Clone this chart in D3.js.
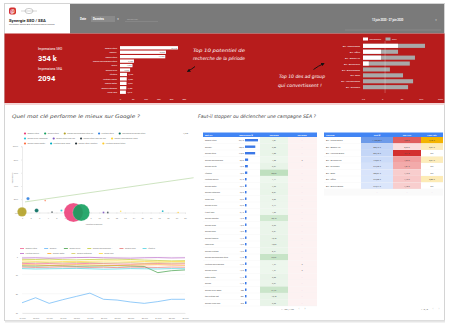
<!DOCTYPE html>
<html>
<head>
<meta charset="utf-8">
<script src="https://cdn.jsdelivr.net/npm/d3@7"></script>
<style>
  body { margin: 0; background: #fff; }
  svg { display: block; font-family: Roboto, "DejaVu Sans", sans-serif; }
</style>
</head>
<body>
<svg id="dash" width="450" height="323"></svg>
<script>
// ---- data ----
const dateRange = "13 juin 2020 - 27 juin 2020";
const kpiSeo = "354 k";
const kpiSea = "2094";

const topKeywords = ["apparel store", "google+", "google store", "google merchandise store", "divers", "google drive", "lifestyle", "youtube merch", "google water", "google notebook", "mugs sale"];
const topImpr = [22740, 18020, 17750, 5480, 4900, 3960, 2735, 2650, 2570, 2480, 2310];
const imprTicks = [0, 5000, 10000, 15000, 20000, 25000];

const adGroups = ["AW - Google Brand", "AW - Office", "AW - Apparel US", "AW - Accessories", "AW - Android Brand", "AW - Bags", "AW - YouTube Brand", "AW - Drinkware"];
const adClicks = [166, 6.6, 50, 27, 2.5, 12, 40, 22];
const adConv = [6.6, 0.86, 0.86, 0.2, 0, 0, 0, 0];
const adTicks = [0.1, 1, 10, 100, 1000];
const adRef = 1.4;

const scatterKw = ["apparel store", "google store", "google merchandise store au", "youtube store", "merchandise google store",
  "google drive campaign", "google store near me", "google store near me buy", "google merchandise shop",
  "google lemon water", "youtube gear shop", "google store location", "youtube product store"];
const scatterColors = ["#ec407a", "#13a05e", "#b3a126", "#2f7fe0", "#00695c",
  "#26c6da", "#7e57c2", "#37474f", "#fdd835",
  "#ff7043", "#00acc1", "#263238", "#ffca28"];
const scatterPos = [7.0, 7.9, 1.0, 1.7, 2.7, 5.6, 10.5, 11.0, 12.5, 3.7, 17.4, 4.5, 19.2];
const scatterCtr = [0.0, 0.0, 0.01, 0.21, 0.03, 0.03, 0.0, 0.0, 0.02, 0.18, 0.02, 0.005, 0.0];
const scatterImpr = [22740, 18020, 5480, 640, 1000, 300, 250, 200, 150, 60, 200, 120, 100];
const legendRows = [5, 4, 4];
const trendPos = [1.35, 21];
const trendCtr = [0.16, 0.525];
const posTicks = [1, 2, 3, 4, 5, 6, 7, 8, 9, 10, 11, 12, 13, 14, 15, 16, 17, 18, 19, 20];
const ctrTicks = [0, 0.2, 0.4, 0.6, 0.8, 1];

const days = ["14 juin", "15 juin", "16 juin", "17 juin", "18 juin", "19 juin", "20 juin", "21 juin", "22 juin", "23 juin", "24 juin", "25 juin", "26 juin"];
const seriesNames = ["apparel store", "google+", "google drive", "google merchandise...", "google drop", "lifestyle", "youtube merch...", "google water", "google notebook", "mugs sale"];
const seriesColors = ["#f06292", "#64b5f6", "#43a047", "#c0ca33", "#e57373", "#4dd0e1", "#ba68c8", "#ffa726", "#d4c95a", "#fdd835"];
const seriesValues = [
  [4.3, 4.5, 4.4, 4.6, 4.5, 4.3, 4.4, 4.6, 4.7, 4.5, 4.4, 4.6, 4.5],
  [24.7, 22.1, 25.0, 23.1, 21.4, 19.7, 22.9, 23.3, 24.3, 25.0, 24.1, 22.9, 22.9],
  [5.6, 5.7, 5.5, 5.6, 5.8, 5.7, 5.6, 5.5, 5.7, 5.9, 9.1, 8.1, 7.7],
  [2.2, 2.3, 2.1, 2.4, 2.5, 2.3, 2.2, 2.1, 2.3, 2.6, 2.8, 3.0, 2.9],
  [6.2, 6.4, 6.3, 6.1, 6.2, 6.4, 6.3, 6.5, 6.2, 6.3, 6.4, 6.2, 6.3],
  [7.0, 7.2, 7.1, 7.0, 6.9, 7.1, 7.3, 7.2, 7.0, 7.1, 7.2, 7.0, 7.1],
  [1.5, 1.4, 1.6, 1.5, 1.3, 1.2, 1.4, 1.5, 1.6, 1.4, 1.3, 1.5, 1.4],
  [5.0, 5.1, 5.3, 5.2, 5.0, 5.1, 5.3, 5.4, 5.2, 5.1, 5.0, 5.2, 5.3],
  [3.8, 3.7, 3.9, 4.0, 3.8, 3.9, 4.1, 4.0, 3.9, 4.2, 4.0, 4.1, 4.0],
  [3.0, 3.2, 3.1, 3.3, 3.4, 3.2, 3.1, 3.0, 3.2, 3.3, 3.5, 3.4, 3.3]
];
const rankTicks = [1, 10, 20, 30];

const tblKw = ["apparel store", "google+", "google store", "google merchandise", "google shirts", "lifestyle", "youtube merch",
  "google water", "google notebook", "mugs sale", "google scribe", "t shirt sale", "google sweater", "google shop",
  "google pens", "google tumbler", "umbrellas", "hoodie youtube", "google merchandise store", "youtube merchandise",
  "google socks", "water bottle", "google", "google drive game", "the youtube hat", "google lunch box"];
const tblImpr = [22740, 18020, 17750, 5480, 4900, 3960, 2735, 2650, 2570, 2480, 2310, 2140, 1890, 1820, 1760, 1680,
  1540, 1480, 1390, 1350, 1280, 1120, 1050, 980, 857, 845];
const tblSeo = [4.87, 6.08, 7.85, 1.08, 9.67, 80.63, 1.11, 7.63, 8.07, 3.06, 2.17, 1.09, 50.15, 6.69, 6.51, 10.40,
  10.02, 8.21, 66.57, 1.24, 1.27, 9.05, 6.67, 61.27, 10.48, 9.65];
const tblSea = [null, null, null, 3, null, null, null, null, null, null, null, null, null, null, null, null,
  null, null, null, 3, 3, null, null, null, null, null];

const agName = ["AW - Google Brand", "AW - Apparel US", "AW - YouTube Brand", "AW - Accessories", "AW - Drinkware", "AW - Bags", "AW - Office", "AW - Android Brand"];
const agCost = [1730.68, 550.42, 536.10, 418.67, 316.25, 250.37, 243.90, 215.74];
const agCpc = [2.08, 0.92, 2.41, 1.62, 1.51, 1.12, 1.16, 1.10];
const agConv = [6.45, 0.67, 0, 0.61, 0, 0, 0.80, 0];

// ---- drawing ----
const svg = d3.select("#dash");
const fr = d3.format(",.2f");
const euro = v => fr(v).replace(/,/g, " ").replace(".", ",") + " €";

function txt(g, x, y, s, size, fill, anchor, weight) {
  return g.append("text").attr("x", x).attr("y", y).text(s)
    .style("font-size", size + "px").style("fill", fill)
    .attr("text-anchor", anchor || "start").style("font-weight", weight || "normal");
}
// the dashboard uses a thin handwriting font, approximated here
function hand(g, x, y, s, len, size, fill) {
  return g.append("text").attr("x", x).attr("y", y).text(s)
    .attr("textLength", len).attr("lengthAdjust", "spacingAndGlyphs")
    .style("font-family", "'DejaVu Sans'").style("font-weight", 200).style("font-style", "italic")
    .style("font-size", size + "px").style("fill", fill);
}

svg.append("defs").append("marker").attr("id", "ah").attr("viewBox", "0 0 10 10")
  .attr("refX", 8).attr("refY", 5).attr("markerWidth", 4).attr("markerHeight", 4).attr("orient", "auto")
  .append("path").attr("d", "M0,0L10,5L0,10z").attr("fill", "#111");

// frame
svg.append("rect").attr("x", 4.5).attr("y", 3.5).attr("width", 440).attr("height", 317)
  .attr("fill", "#fff").attr("stroke", "#d4d4d4");
svg.append("line").attr("x1", 5).attr("x2", 445).attr("y1", 321.5).attr("y2", 321.5).attr("stroke", "#e6e6e6").attr("stroke-width", 2);

// header
const hd = svg.append("g");
hd.append("rect").attr("x", 70).attr("y", 4).attr("width", 374).attr("height", 29.5).attr("fill", "#7a7a7a");
hd.append("rect").attr("x", 9).attr("y", 7.5).attr("width", 7).attr("height", 7).attr("rx", 2).attr("fill", "#d32f2f");
txt(hd, 12.5, 13, "@", 5, "#fff", "middle", "bold");
hd.append("ellipse").attr("cx", 29).attr("cy", 11).attr("rx", 4).attr("ry", 2.6).attr("fill", "none").attr("stroke", "#9a9a9a").attr("stroke-width", 0.5);
hd.append("line").attr("x1", 21).attr("x2", 37).attr("y1", 11).attr("y2", 11).attr("stroke", "#9a9a9a").attr("stroke-width", 0.4);
txt(hd, 9, 21.5, "Synergie SEO / SEA", 4.2, "#222", "start", "bold");
txt(hd, 9, 25.3, "Corrélation Google Ads et Google Search Console", 2.1, "#555");
txt(hd, 80, 20, "Date", 3, "#fff", "start", "bold");
hd.append("rect").attr("x", 91).attr("y", 16).attr("width", 24).attr("height", 6).attr("fill", "#8a8a8a");
txt(hd, 93, 20.2, "Données", 2.8, "#fff", "start", "bold");
txt(hd, 118, 20.2, "▾", 3, "#eee", "middle");
hd.append("line").attr("x1", 125).attr("x2", 158).attr("y1", 21.5).attr("y2", 21.5).attr("stroke", "#999").attr("stroke-width", 0.4);
txt(hd, 127, 20, "Rechercher", 2.2, "#b5b5b5");
hd.append("line").attr("x1", 345).attr("x2", 441).attr("y1", 30).attr("y2", 30).attr("stroke", "#999").attr("stroke-width", 0.5);
txt(hd, 372, 20.5, dateRange, 2.6, "#fff", "start", "bold");
txt(hd, 436, 20.5, "▾", 3, "#ccc", "middle");

// red band
const band = svg.append("g");
band.append("rect").attr("x", 4.5).attr("y", 33.5).attr("width", 440).attr("height", 69.5).attr("fill", "#b71c1c");
band.append("rect").attr("x", 4.5).attr("y", 103).attr("width", 440).attr("height", 2).attr("fill", "#f4d6d6");
txt(band, 38, 50, "Impressions SEO", 3.2, "#fff");
txt(band, 38, 60.5, kpiSeo, 7.5, "#fff", "start", "bold");
txt(band, 38, 70, "Impressions SEA", 3.2, "#fff");
txt(band, 38, 80.5, kpiSea, 7.5, "#fff", "start", "bold");

// top keywords bar chart
const xL = d3.scaleLinear().domain([0, 30000]).range([120, 196.5]);
const yL = d3.scaleBand().domain(topKeywords).range([45, 95]).padding(0.25);
const fk = d3.format(",");
const lb = band.append("g");
topKeywords.forEach((k, i) => {
  const w = xL(topImpr[i]) - xL(0);
  lb.append("rect").attr("x", xL(0)).attr("y", yL(k)).attr("width", w).attr("height", yL.bandwidth()).attr("fill", "#fff");
  txt(lb, 117, yL(k) + yL.bandwidth() - 0.8, k, 2.1, "#fff", "end");
  const s = fk(topImpr[i]);
  if (w > 10) txt(lb, xL(topImpr[i]) - 1, yL(k) + yL.bandwidth() - 0.9, s, 1.9, "#666", "end");
  else txt(lb, xL(topImpr[i]) + 1.5, yL(k) + yL.bandwidth() - 0.9, s, 1.9, "#fff");
});
const axL = band.append("g").attr("transform", "translate(0,95.5)")
  .call(d3.axisBottom(xL).tickValues(imprTicks).tickSize(0).tickFormat(d => d ? d / 1000 + "k" : "0"));
axL.select(".domain").remove();
axL.selectAll("text").style("font-size", "2.3px").style("fill", "#fff").attr("dy", "1.6");

// annotation 1
hand(band, 193, 52, "Top 10 potentiel de", 52, 4.6, "#fff");
hand(band, 193, 59.5, "recherche de la période", 52, 4.6, "#fff");
band.append("path").attr("d", "M195,66.5 Q192,69 187.5,71.5").attr("fill", "none")
  .attr("stroke", "#111").attr("stroke-width", 0.9).attr("marker-end", "url(#ah)");

// ad group bar chart (log scale)
const xR = d3.scaleLog().domain([0.1, 1000]).range([363, 440]);
const yR = d3.scaleBand().domain(adGroups).range([42, 91]).padding(0.3);
const rb = band.append("g");
rb.append("rect").attr("x", 363).attr("y", 37.5).attr("width", 5).attr("height", 3).attr("fill", "#fff");
txt(rb, 369.5, 40.2, "Conversions", 2.1, "#fff");
rb.append("rect").attr("x", 385.5).attr("y", 37.5).attr("width", 5).attr("height", 3).attr("fill", "#a9a9a9");
txt(rb, 392, 40.2, "Clics", 2.1, "#fff");
adGroups.forEach((a, i) => {
  rb.append("rect").attr("x", xR(0.1)).attr("y", yR(a)).attr("width", xR(adClicks[i]) - xR(0.1))
    .attr("height", yR.bandwidth()).attr("fill", "#a9a9a9");
  if (adConv[i] > 0.1)
    rb.append("rect").attr("x", xR(0.1)).attr("y", yR(a)).attr("width", xR(adConv[i]) - xR(0.1))
      .attr("height", yR.bandwidth()).attr("fill", "#fff");
  txt(rb, 360, yR(a) + yR.bandwidth() - 1, a, 2.1, "#fff", "end");
});
rb.append("line").attr("x1", xR(adRef)).attr("x2", xR(adRef)).attr("y1", 41).attr("y2", 93)
  .attr("stroke", "#fff").attr("stroke-opacity", 0.6).attr("stroke-width", 0.4);
const axR = band.append("g").attr("transform", "translate(0,95.5)")
  .call(d3.axisBottom(xR).tickValues(adTicks).tickSize(0).tickFormat(d3.format("~g")));
axR.select(".domain").remove();
axR.selectAll("text").style("font-size", "2.3px").style("fill", "#fff").attr("dy", "1.6");

// annotation 2
hand(band, 279, 78, "Top 10 des ad group", 46, 4.6, "#fff");
hand(band, 278, 86.5, "qui convertissent !", 44, 4.6, "#fff");
band.append("path").attr("d", "M313.5,69.5 Q318,66 324,63.5").attr("fill", "none")
  .attr("stroke", "#111").attr("stroke-width", 0.9).attr("marker-end", "url(#ah)");

// section titles
hand(svg, 12, 117.5, "Quel mot clé performe le mieux sur Google ?", 128, 4.8, "#444");
hand(svg, 198, 118, "Faut-il stopper ou déclencher une campagne SEA ?", 118, 4.8, "#444");

// ---- scatter ----
const sc = svg.append("g");
let idx = 0;
legendRows.forEach((n, r) => {
  let x = 25;
  for (let j = 0; j < n; j++, idx++) {
    sc.append("circle").attr("cx", x).attr("cy", 133.5 + r * 5).attr("r", 1.1).attr("fill", scatterColors[idx]);
    const t = txt(sc, x + 2.5, 134.3 + r * 5, scatterKw[idx], 2, "#777");
    x += 2.5 + t.node().getComputedTextLength() + 6;
  }
});
txt(sc, 183, 134.3, "1/2 ▸", 2.2, "#555");

const xS = d3.scaleLinear().domain([1, 20]).range([22, 185]);
const yS = d3.scaleLinear().domain([0, 1]).range([212.5, 146.3]);
const rS = d3.scaleSqrt().domain([0, 25000]).range([0, 10]);
const ayS = sc.append("g").attr("transform", "translate(22,0)")
  .call(d3.axisLeft(yS).tickValues(ctrTicks).tickSize(1).tickFormat(d3.format(".0%")));
ayS.select(".domain").attr("stroke", "#ccc").attr("stroke-width", 0.4);
ayS.selectAll("line").attr("stroke", "#ccc").attr("stroke-width", 0.4);
ayS.selectAll("text").style("font-size", "2.1px").style("fill", "#777");
const axS = sc.append("g").attr("transform", "translate(0,212.5)")
  .call(d3.axisBottom(xS).tickValues(posTicks).tickSize(1));
axS.select(".domain").attr("stroke", "#ccc").attr("stroke-width", 0.4);
axS.selectAll("line").attr("stroke", "#ccc").attr("stroke-width", 0.4);
axS.selectAll("text").style("font-size", "2.1px").style("fill", "#777").attr("dy", "2");
txt(sc, 94, 224.5, "Position moyenne", 2.1, "#777", "middle");
txt(sc, 0, 0, "Taux de clic", 2.1, "#777", "middle").attr("transform", "translate(12.5,178) rotate(-90)");

sc.append("line").attr("x1", xS(trendPos[0])).attr("y1", yS(trendCtr[0]))
  .attr("x2", xS(trendPos[1])).attr("y2", yS(trendCtr[1]))
  .attr("stroke", "#b9d9a6").attr("stroke-width", 0.7);

const pts = scatterKw.map((k, i) => ({ k, pos: scatterPos[i], ctr: scatterCtr[i], impr: scatterImpr[i], c: scatterColors[i] }))
  .sort((a, b) => b.impr - a.impr);
sc.selectAll(".bub").data(pts).enter().append("circle").attr("class", "bub")
  .attr("cx", d => xS(d.pos)).attr("cy", d => yS(d.ctr)).attr("r", d => Math.max(0.8, rS(d.impr)))
  .attr("fill", d => d.c).attr("fill-opacity", 0.9).attr("stroke", "#fff").attr("stroke-width", 0.2);

// ---- time series ----
const ts = svg.append("g");
const legR = [[0, 1, 2, 3, 4, 5], [6, 7, 8, 9]];
legR.forEach((row, r) => {
  let x = 20;
  row.forEach(i => {
    ts.append("line").attr("x1", x).attr("x2", x + 4).attr("y1", 248.5 + r * 5).attr("y2", 248.5 + r * 5)
      .attr("stroke", seriesColors[i]).attr("stroke-width", 0.8);
    const t = txt(ts, x + 5.5, 249.3 + r * 5, seriesNames[i], 2, "#777");
    x += 5.5 + t.node().getComputedTextLength() + 7;
  });
});
const xT = d3.scalePoint().domain(days).range([22, 185]);
const yT = d3.scaleLinear().domain([1, 30]).range([257, 313]);
rankTicks.forEach(t => {
  ts.append("line").attr("x1", 22).attr("x2", 185).attr("y1", yT(t)).attr("y2", yT(t))
    .attr("stroke", "#eee").attr("stroke-width", 0.4);
});
const ayT = ts.append("g").attr("transform", "translate(22,0)")
  .call(d3.axisLeft(yT).tickValues(rankTicks).tickSize(0));
ayT.select(".domain").remove();
ayT.selectAll("text").style("font-size", "2.1px").style("fill", "#777").attr("dx", "-1");
const axT = ts.append("g").attr("transform", "translate(0,313)")
  .call(d3.axisBottom(xT).tickSize(0));
axT.select(".domain").attr("stroke", "#ccc").attr("stroke-width", 0.4);
axT.selectAll("text").style("font-size", "2.1px").style("fill", "#777").attr("dy", "2.8");
const line = d3.line().x((d, i) => xT(days[i])).y(d => yT(d));
seriesValues.forEach((v, i) => {
  ts.append("path").attr("d", line(v)).attr("fill", "none")
    .attr("stroke", seriesColors[i]).attr("stroke-width", 0.7);
});

// ---- keyword table ----
const tb = svg.append("g");
const rowH = 6.5, top0 = 137;
tb.append("rect").attr("x", 203).attr("y", 132.5).attr("width", 114).attr("height", 4.5).attr("fill", "#4285f4");
txt(tb, 205, 135.7, "Mot-clé", 2.1, "#fff", "start", "bold");
txt(tb, 246, 135.7, "Impressions ▼", 2.1, "#fff", "middle", "bold");
txt(tb, 274, 135.7, "SEO Rank", 2.1, "#fff", "middle", "bold");
txt(tb, 302, 135.7, "SEA Rank", 2.1, "#fff", "middle", "bold");
const wI = d3.scaleLinear().domain([0, d3.max(tblImpr)]).range([0, 13]);
const cSeo = d3.scaleLinear().domain([0, 80]).range(["#eef7ee", "#bfe0bf"]);
const fI = v => v >= 1000 ? (v / 1000).toFixed(1).replace(".", ",") + " k" : String(v);
tblKw.forEach((k, i) => {
  const y = top0 + i * rowH;
  tb.append("rect").attr("x", 260).attr("y", y).attr("width", 28).attr("height", rowH).attr("fill", cSeo(tblSeo[i]));
  tb.append("rect").attr("x", 288).attr("y", y).attr("width", 29).attr("height", rowH).attr("fill", "#fdf2f2");
  tb.append("line").attr("x1", 203).attr("x2", 317).attr("y1", y + rowH).attr("y2", y + rowH).attr("stroke", "#f0f0f0").attr("stroke-width", 0.3);
  txt(tb, 205, y + 4.2, k, 2, "#555");
  txt(tb, 244, y + 4.2, fI(tblImpr[i]), 2, "#555", "end");
  tb.append("rect").attr("x", 245).attr("y", y + 2).attr("width", Math.max(1.5, wI(tblImpr[i]))).attr("height", 2.4).attr("fill", "#3b78e7");
  txt(tb, 274, y + 4.2, tblSeo[i].toFixed(2).replace(".", ","), 2, "#555", "middle");
  txt(tb, 302, y + 4.2, tblSea[i] == null ? "-" : tblSea[i], 2, "#555", "middle");
});
txt(tb, 294, 309.5, "1 - 100 / 1469", 2.1, "#666", "end");
txt(tb, 299, 309.5, "‹", 3, "#aaa", "middle");
txt(tb, 305, 309.5, "›", 3, "#666", "middle");

// ---- ad group table ----
const ag = svg.append("g");
ag.append("rect").attr("x", 324).attr("y", 132.5).attr("width", 119).attr("height", 4.5).attr("fill", "#4285f4");
txt(ag, 326, 135.7, "Ad group", 2.1, "#fff", "start", "bold");
txt(ag, 377, 135.7, "Coût ▼", 2.1, "#fff", "middle", "bold");
txt(ag, 407, 135.7, "Avg. CPC", 2.1, "#fff", "middle", "bold");
txt(ag, 432, 135.7, "Conv. rate", 2.1, "#fff", "middle", "bold");
const cCost = d3.scaleLinear().domain([d3.min(agCost), d3.max(agCost)]).range(["#dbe6fb", "#6e9be9"]);
const cCpc = d3.scaleLinear().domain([0.9, 1.6, 2.41]).range(["#fbe0e0", "#f2a2a2", "#d32f2f"]);
const cConv = d3.scaleLinear().domain([0, 0.5, 6.5]).range(["#ffffff", "#fdeec0", "#f4b400"]);
agName.forEach((a, i) => {
  const y = top0 + i * rowH;
  ag.append("rect").attr("x", 361).attr("y", y).attr("width", 32).attr("height", rowH).attr("fill", cCost(agCost[i]));
  ag.append("rect").attr("x", 393).attr("y", y).attr("width", 28).attr("height", rowH).attr("fill", cCpc(agCpc[i]));
  ag.append("rect").attr("x", 421).attr("y", y).attr("width", 22).attr("height", rowH).attr("fill", cConv(agConv[i]));
  ag.append("line").attr("x1", 324).attr("x2", 443).attr("y1", y + rowH).attr("y2", y + rowH).attr("stroke", "#f0f0f0").attr("stroke-width", 0.3);
  txt(ag, 326, y + 4.2, a, 2, "#555");
  txt(ag, 377, y + 4.2, euro(agCost[i]), 2, "#444", "middle");
  txt(ag, 407, y + 4.2, agCpc[i].toFixed(2).replace(".", ",") + " €", 2, "#444", "middle");
  txt(ag, 432, y + 4.2, agConv[i] ? agConv[i].toFixed(2).replace(".", ",") + " %" : "0 %", 2, "#444", "middle");
});
const yTot = top0 + agName.length * rowH;
ag.append("rect").attr("x", 324).attr("y", yTot).attr("width", 119).attr("height", rowH).attr("fill", "#fafafa");
txt(ag, 377, yTot + 4.2, "-", 2, "#555", "middle");
txt(ag, 407, yTot + 4.2, "-", 2, "#555", "middle");
txt(ag, 432, yTot + 4.2, "-", 2, "#555", "middle");
txt(ag, 428, 309.5, "1 - 8 / 8", 2.1, "#666", "end");
txt(ag, 433, 309.5, "‹", 3, "#aaa", "middle");
txt(ag, 439, 309.5, "›", 3, "#aaa", "middle");
</script>
</body>
</html>
